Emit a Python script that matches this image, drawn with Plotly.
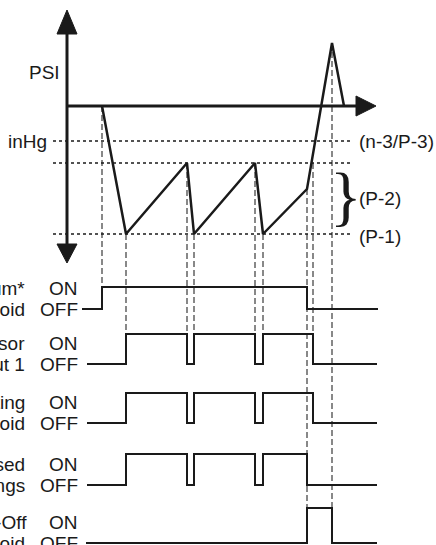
import plotly.graph_objects as go

# pressure curve: time (x) and pressure (0 = PSI baseline, up = positive)
pressure_t = [102, 126, 187, 194, 255, 263, 307, 332, 344]
pressure_v = [0, -128, -57, -128, -57, -128, -83, 63, 0]

# setpoint levels drawn as dotted lines
level_labels = ["(n-3/P-3)", "(P-2)", "(P-1)"]
level_values = [-35, -57, -128]
axis_labels = ["PSI", "inHg"]

# output signals: toggle times (each starts OFF)
signal_names = [
    ("Vacuum*", "Solenoid"),
    ("Compressor", "Output 1"),
    ("Venting", "Solenoid"),
    ("Closed", "Fittings"),
    ("Shut-Off", "Solenoid"),
]
signal_toggles = [
    [102, 307],
    [126, 187, 194, 255, 263, 313],
    [126, 187, 194, 255, 263, 313],
    [126, 187, 194, 255, 263, 307],
    [307, 332],
]
signal_start = [82, 87, 87, 87, 86]
signal_end = [378, 377, 377, 377, 377]

# dashed guides: time, pressure where they start, signal row where they stop
guide_t = [102, 126, 187, 194, 255, 263, 307, 313, 332]
guide_top = [0, -128, -57, -128, -57, -128, -83, -57, 63]
guide_row = [0, 1, 1, 1, 1, 1, 4, 1, 4]

# layout of the signal rows (same vertical units as pressure)
ROW_OFF = [-203, -258, -317, -379, -437]
ROW_ON = [-181, -228, -287, -348, -402]
AXIS_X = 67
INK = "#1a1a1a"
FONT = "Liberation Sans, Arial, sans-serif"

fig = go.Figure()

# dashed guides
for t, top, row in zip(guide_t, guide_top, guide_row):
    fig.add_trace(go.Scatter(
        x=[t, t], y=[top, ROW_ON[row]], mode="lines",
        line={"color": "#3a3a3a", "width": 1.2, "dash": "6px,3px"},
        hoverinfo="skip", showlegend=False,
    ))

# dotted level lines
for v in level_values:
    fig.add_trace(go.Scatter(
        x=[53, 350], y=[v, v], mode="lines",
        line={"color": INK, "width": 1.5, "dash": "dot"},
        hoverinfo="skip", showlegend=False,
    ))

# axes
fig.add_trace(go.Scatter(
    x=[AXIS_X, AXIS_X], y=[73, -139], mode="lines",
    line={"color": INK, "width": 3}, hoverinfo="skip", showlegend=False,
))
fig.add_trace(go.Scatter(
    x=[AXIS_X, 358], y=[0, 0], mode="lines",
    line={"color": INK, "width": 3}, hoverinfo="skip", showlegend=False,
))
for path in [
    f"M {AXIS_X},96 L {AXIS_X - 10},72 L {AXIS_X + 10},72 Z",
    f"M {AXIS_X},-157 L {AXIS_X - 10},-138 L {AXIS_X + 10},-138 Z",
    "M 376,0 L 356,10 L 356,-10 Z",
]:
    fig.add_shape(type="path", path=path, fillcolor=INK, line={"color": INK, "width": 1})

# pressure curve
fig.add_trace(go.Scatter(
    x=pressure_t, y=pressure_v, mode="lines",
    line={"color": INK, "width": 2.5}, hoverinfo="skip", showlegend=False,
))

# signals
for i, toggles in enumerate(signal_toggles):
    xs = [signal_start[i]]
    ys = [ROW_OFF[i]]
    state = False
    for t in toggles:
        xs += [t, t]
        ys += [ROW_ON[i] if state else ROW_OFF[i], ROW_OFF[i] if state else ROW_ON[i]]
        state = not state
    xs.append(signal_end[i])
    ys.append(ROW_ON[i] if state else ROW_OFF[i])
    fig.add_trace(go.Scatter(
        x=xs, y=ys, mode="lines",
        line={"color": INK, "width": 2}, hoverinfo="skip", showlegend=False,
    ))


def label(x, y, text, anchor="right", size=19, family=FONT):
    fig.add_annotation(
        x=x, y=y, text=text, showarrow=False, xanchor=anchor, yanchor="middle",
        font={"size": size, "color": INK, "family": family},
    )


label(62, 34, axis_labels[0])
label(49, level_values[0], axis_labels[1])
label(357, level_values[0], level_labels[0], "left")
label(357, (level_values[1] + level_values[2]) / 2, level_labels[1], "left")
label(357, level_values[2] - 2, level_labels[2], "left")
label(346, (level_values[1] + level_values[2]) / 2 + 3, "}", "center", 66, "Liberation Serif, serif")

for i, (first, second) in enumerate(signal_names):
    label(29 if i == 4 else 27, ROW_OFF[i] + 21, first)
    label(27, ROW_OFF[i], second)
    label(80, ROW_OFF[i] + 21, "ON")
    label(80, ROW_OFF[i], "OFF")

fig.update_layout(
    width=436, height=545, autosize=False,
    margin={"l": 0, "r": 0, "t": 0, "b": 0},
    paper_bgcolor="white", plot_bgcolor="white",
    showlegend=False,
)
fig.update_xaxes(range=[0, 436], visible=False, fixedrange=True)
fig.update_yaxes(range=[-439, 106], visible=False, fixedrange=True)

fig.write_html(
    "out.html",
    config={"displayModeBar": False},
    post_script="document.body.style.margin = '0'; document.body.style.overflow = 'hidden';",
)
